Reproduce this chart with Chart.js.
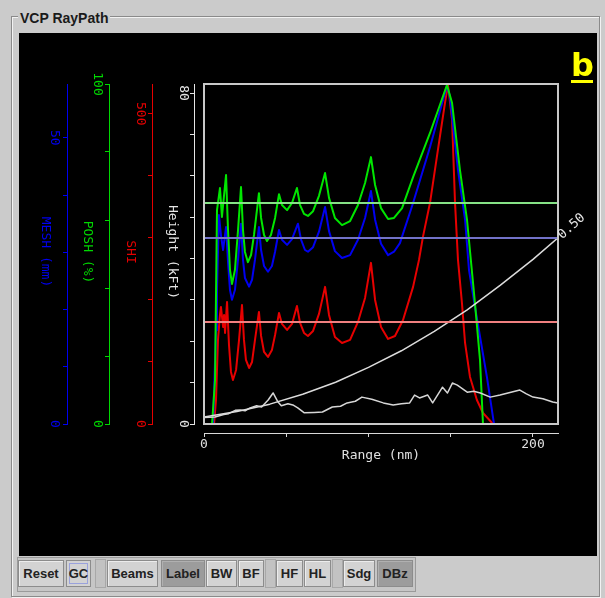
<!DOCTYPE html>
<html>
<head>
<meta charset="utf-8">
<title>VCP RayPath</title>
<script src="https://cdn.jsdelivr.net/npm/chart.js@4.4.1/dist/chart.umd.min.js"></script>
<style>
  html, body { margin: 0; padding: 0; }
  body { width: 605px; height: 598px; background: #cbcbcb; position: relative; overflow: hidden; }
  .frame { position: absolute; left: 11px; top: 16px; width: 587px; height: 579px; border: 1px solid #8a8a8a; box-shadow: inset 1px 1px 0 #f2f2f2, 1px 1px 0 #f2f2f2; }
  .frameTitle { position: absolute; left: 18px; top: 10px; padding: 0 2px; line-height: 16px; background: #cbcbcb; font: bold 14px 'Liberation Sans', Arial, sans-serif; color: #1a1a1a; }
  .plot { position: absolute; left: 19px; top: 33px; width: 578px; height: 523px; background: #000; }
  .bar { position: absolute; left: 17px; top: 557px; width: 397px; height: 33px; border: 1px solid #9a9a9a; background: #c6c6c6; }
  .btn, .sep { position: absolute; box-sizing: border-box; }
  .btn { top: 560px; height: 27px; border: 1px solid #8c8c8c; background: #d3d3d3; box-shadow: inset 1px 1px 0 #ececec;
         font: bold 13px 'Liberation Sans', Arial, sans-serif; color: #222; text-align: center; line-height: 25px; }
  .btn.on { background: #9c9c9c; box-shadow: inset 1px 1px 0 #b0b0b0; }
  .btn.focus { box-shadow: inset 0 0 0 2px #d3d3d3, inset 0 0 0 3px #9aa2dc; }
  .sep { top: 559px; height: 29px; background: #c2c2c2; border: 1px solid #a8a8a8; }
</style>
</head>
<body>
<div class="frame"></div>
<div class="frameTitle">VCP RayPath</div>
<div class="plot"><canvas id="rayChart" width="578" height="523" style="width:578px;height:523px"></canvas></div>
<div class="bar"></div>
<div class="btn" style="left:18px;width:46px">Reset</div>
<div class="btn focus" style="left:66px;width:25px">GC</div>
<div class="sep" style="left:95px;width:11px"></div>
<div class="btn" style="left:107px;width:51px">Beams</div>
<div class="btn on" style="left:161px;width:44px">Label</div>
<div class="btn" style="left:206px;width:31px">BW</div>
<div class="btn" style="left:238px;width:26px">BF</div>
<div class="sep" style="left:265px;width:11px"></div>
<div class="btn" style="left:276px;width:27px">HF</div>
<div class="btn" style="left:304px;width:27px">HL</div>
<div class="sep" style="left:332px;width:11px"></div>
<div class="btn" style="left:343px;width:32px">Sdg</div>
<div class="btn on" style="left:377px;width:36px">DBz</div>

<script>
// range in nm
const poshRange = [4.9, 6.7, 7.9, 9.7, 10.9, 13.4, 14.6, 15.8, 17.0, 18.8, 20.7, 22.5, 23.7, 24.9, 26.7, 28.6, 30.4, 33.4,
    34.7, 36.5, 38.3, 40.7, 43.2, 45.6, 47.4, 50.5, 53.5, 56.5, 58.4, 60.8, 63.2, 66.3, 69.9, 73.6, 76.0, 79.6, 83.9,
    88.8, 93.6, 97.9, 101.5, 104.0, 107.6, 111.9, 115.5, 120.4, 127.1, 137.4, 147.7, 150.8, 155.6, 159.9, 164.7, 167.8, 169.6];
const poshValues = [0, 12.9, 62.9, 69.4, 60.9, 73.2, 57.1, 45.3, 41.2, 45.3, 57.1, 69.7, 57.1, 50.6, 47.6, 49.7, 55.6, 67.9,
    60.6, 55.6, 53.8, 55.6, 60.6, 67.6, 64.4, 62.9, 65.0, 69.4, 64.4, 61.8, 61.2, 62.6, 67.1, 73.8, 66.5, 60.6, 58.5,
    59.7, 64.4, 70.9, 78.5, 70.3, 63.5, 60.3, 60.6, 63.5, 72.6, 85.6, 99.7, 94.4, 74.7, 60.0, 35.6, 18.8, 0];

const meshRange = [5.5, 7.3, 7.9, 9.1, 10.3, 11.6, 13.4, 14.6, 15.8, 17.0, 18.8, 20.7, 22.5, 23.7, 24.9, 27.4, 29.2, 31.0,
    33.4, 34.7, 36.5, 38.9, 41.3, 43.2, 45.6, 47.4, 50.5, 53.5, 57.1, 59.0, 61.4, 63.2, 66.3, 69.9, 73.6, 76.0, 79.6,
    83.9, 88.8, 93.6, 97.9, 101.5, 104.0, 107.6, 111.9, 115.5, 119.1, 127.1, 137.4, 147.7, 149.5, 154.4, 158.7, 161.1,
    164.7, 172.0, 176.3];
const meshValues = [0, 16.4, 23.4, 36.5, 33.0, 30.4, 34.4, 28.3, 23.4, 21.7, 23.4, 28.7, 35.0, 28.7, 25.5, 24.0, 25.2, 28.7,
    34.4, 30.4, 27.6, 26.6, 27.6, 30.1, 33.9, 32.2, 31.3, 32.3, 35.0, 32.2, 30.4, 30.1, 30.9, 33.6, 37.9, 33.7, 30.2,
    29.0, 29.5, 32.2, 36.0, 40.7, 35.7, 31.5, 29.5, 30.1, 31.6, 38.6, 48.4, 59.1, 57.2, 44.4, 35.7, 26.9,
    20.5, 8.2, 0];

const shiRange = [6.1, 7.3, 8.5, 9.7, 10.3, 11.6, 12.2, 12.8, 14.0, 15.2, 16.4, 17.6, 19.5, 21.3, 23.1, 24.3, 25.5, 27.4,
    29.2, 31.0, 33.4, 34.7, 36.5, 38.9, 41.3, 43.2, 45.6, 47.4, 50.5, 53.5, 56.5, 58.4, 60.8, 63.2, 66.3, 69.9, 73.6,
    76.0, 79.6, 83.9, 88.8, 93.6, 97.9, 101.5, 104.0, 107.6, 111.9, 116.1, 121.0, 127.1, 130.7, 133.1, 137.4, 142.2,
    146.5, 148.3, 150.8, 152.6, 154.4, 156.8, 158.7, 161.7, 165.9, 169.6, 175.7];
const shiValues = [0, 38.7, 135.5, 175.8, 188.7, 156.5, 175.8, 146.8, 196.8, 127.4, 83.9, 71.0, 87.1, 135.5, 191.9, 135.5, 103.2, 90.3,
    100.0, 135.5, 180.6, 141.9, 116.1, 108.1, 119.4, 143.5, 179.0, 161.3, 151.6, 161.3, 190.3, 162.9, 146.8, 141.9, 150.0, 177.4, 221.0,
    175.8, 140.3, 130.6, 135.5, 164.5, 203.2, 259.7, 200.0, 156.5, 137.1, 141.9, 167.7, 221.0, 264.5, 301.6, 356.5, 441.9,
    517.7, 546.8, 490.3, 356.5, 264.5, 195.2, 130.6, 75.8, 38.7, 17.7, 0];

// beam centre height (kft) for the 0.50 deg tilt
const rayRange = [0, 20, 40, 60, 80, 100, 120, 140, 160, 180, 200, 215.2];
const rayHeight = [1.7, 3.0, 4.8, 7.2, 10.1, 13.7, 17.7, 22.4, 27.6, 33.5, 39.8, 45.0];
const rayLabel = '0.50';

// white trace along the bottom (kft)
const echoRange = [0, 6.7, 12, 15, 19, 22, 25, 28, 32, 35, 39, 42, 45, 47, 51, 54, 57, 61, 67, 72, 78, 83, 87, 92, 96, 102, 109,
    115, 120, 125, 128, 131, 136, 139, 145, 148, 151, 154, 160, 164, 168, 174, 180, 186, 192, 196, 200, 206, 212, 215.2];
const echoHeight = [1.6, 1.7, 2.3, 2.5, 3.3, 3.4, 3.2, 3.9, 4.4, 4.1, 5.8, 7.5, 5.3, 4.4, 4.9, 4.6, 3.9, 2.7, 2.8, 2.9, 4.1, 4.3, 5.1, 5.5, 6.5, 6.0, 5.1,
    4.6, 4.9, 5.1, 7.0, 6.3, 7.0, 5.1, 8.9, 7.5, 9.9, 9.4, 7.7, 7.9, 7.5, 6.5, 7.0, 7.6, 8.2, 7.3, 6.5, 6.1, 5.3, 5.1];

// horizontal reference levels
const poshLevel = 65;
const meshLevel = 32.5;
const shiLevel = 164.5;

// labelled ticks
const rangeTickLabels = [0, 200];
const heightTickLabels = [0, 80];
const shiTickLabels = [0, 500];
const poshTickLabels = [0, 100];
const meshTickLabels = [0, 50];

const rangeMax = 215.2;
const monoFont = { family: "'DejaVu Sans Mono', monospace", size: 13 };

function toPoints(xs, ys) {
    return xs.map((x, i) => ({ x: x, y: ys[i] }));
}

function levelLine(value) {
    return [{ x: 0, y: value }, { x: rangeMax, y: value }];
}

function lineSet(data, color, yAxisID, width) {
    return {
        data: data,
        borderColor: color,
        borderWidth: width,
        borderJoinStyle: 'round',
        pointRadius: 0,
        tension: 0,
        xAxisID: 'x',
        yAxisID: yAxisID
    };
}

function sideAxis(color, max, step, labels, weight, width, pad) {
    return {
        type: 'linear',
        position: 'left',
        weight: weight,
        min: 0,
        max: max,
        afterFit: function(scale) { scale.width = width; },
        grid: { drawOnChartArea: false, color: color, tickLength: 4 },
        border: { color: color },
        ticks: {
            stepSize: step,
            includeBounds: false,
            autoSkip: false,
            minRotation: -90,
            maxRotation: -90,
            crossAlign: 'center',
            padding: pad,
            color: color,
            font: monoFont,
            callback: v => labels.includes(v) ? String(v) : ''
        }
    };
}

// box round the plot, rotated axis titles, beam label and the panel letter
const decorations = {
    id: 'decorations',
    afterDraw(chart) {
        const { ctx, chartArea: a, scales } = chart;
        ctx.save();
        ctx.strokeStyle = '#c8c8c8';
        ctx.lineWidth = 2;
        ctx.strokeRect(a.left, a.top, a.right - a.left, a.bottom - a.top);

        ctx.font = "13px 'DejaVu Sans Mono', monospace";
        ctx.textAlign = 'center';
        ctx.textBaseline = 'middle';
        const titles = [
            ['height', 'Height (kFt)', '#e6e6e6'],
            ['shi', 'SHI', '#e60000'],
            ['posh', 'POSH (%)', '#00d800'],
            ['mesh', 'MESH (mm)', '#0000f0']
        ];
        titles.forEach(t => {
            const s = scales[t[0]];
            ctx.save();
            ctx.translate(s.right - 22, (s.top + s.bottom) / 2 - 2);
            ctx.rotate(Math.PI / 2);
            ctx.fillStyle = t[2];
            ctx.fillText(t[1], 0, 0);
            ctx.restore();
        });

        const ray = chart.getDatasetMeta(3).data;
        const end = ray[ray.length - 1];
        ctx.save();
        ctx.translate(end.x + 2, end.y - 1);
        ctx.rotate(-42 * Math.PI / 180);
        ctx.textAlign = 'left';
        ctx.fillStyle = '#e6e6e6';
        ctx.fillText(rayLabel, 0, 0);
        ctx.restore();

        ctx.fillStyle = '#ffff00';
        ctx.font = "bold 32px 'DejaVu Sans', sans-serif";
        ctx.textAlign = 'left';
        ctx.textBaseline = 'alphabetic';
        ctx.fillText('b', 552, 43);
        ctx.fillRect(552, 47, 22, 3);
        ctx.restore();
    }
};

const ctx = document.getElementById('rayChart').getContext('2d');

const rayChart = new Chart(ctx, {
    type: 'line',
    data: {
        datasets: [
            lineSet(levelLine(poshLevel), '#86e286', 'posh', 2),
            lineSet(levelLine(meshLevel), '#7272c8', 'mesh', 2),
            lineSet(levelLine(shiLevel), '#f08080', 'shi', 2),
            lineSet(toPoints(rayRange, rayHeight), '#dcdcdc', 'height', 1.5),
            lineSet(toPoints(echoRange, echoHeight), '#d6d6d6', 'height', 1.5),
            lineSet(toPoints(poshRange, poshValues), '#00e600', 'posh', 2),
            lineSet(toPoints(meshRange, meshValues), '#0000f0', 'mesh', 2),
            lineSet(toPoints(shiRange, shiValues), '#e60000', 'shi', 2)
        ]
    },
    options: {
        responsive: false,
        animation: false,
        layout: { padding: { left: 0, right: 39, top: 51, bottom: 83 } },
        plugins: {
            legend: { display: false },
            tooltip: { enabled: false }
        },
        scales: {
            x: {
                type: 'linear',
                position: 'bottom',
                weight: 1,
                min: 0,
                max: rangeMax,
                afterFit: function(scale) { scale.height = 40; },
                grid: { drawOnChartArea: false, color: '#d8d8d8', tickLength: 4 },
                border: { color: '#d8d8d8' },
                ticks: {
                    stepSize: 50,
                    includeBounds: false,
                    autoSkip: false,
                    maxRotation: 0,
                    padding: 0,
                    color: '#e0e0e0',
                    font: monoFont,
                    callback: v => rangeTickLabels.includes(v) ? String(v) : ''
                },
                title: {
                    display: true,
                    text: 'Range (nm)',
                    color: '#e0e0e0',
                    font: monoFont,
                    padding: { top: 0, bottom: 10 }
                }
            },
            gapB: {
                type: 'linear',
                position: 'bottom',
                weight: 0,
                afterFit: function(scale) { scale.height = 9; },
                grid: { display: false },
                border: { display: false },
                ticks: { display: false }
            },
            mesh: sideAxis('#0000f0', 59.4, 10, meshTickLabels, 4, 48, 1),
            posh: sideAxis('#00d800', 100, 20, poshTickLabels, 3, 42, -4),
            shi: sideAxis('#e60000', 548, 100, shiTickLabels, 2, 43, -4),
            height: sideAxis('#e6e6e6', 82.2, 10, heightTickLabels, 1, 42, -1),
            gapL: {
                type: 'linear',
                position: 'left',
                weight: 0,
                afterFit: function(scale) { scale.width = 10; },
                grid: { display: false },
                border: { display: false },
                ticks: { display: false }
            }
        }
    },
    plugins: [decorations]
});
</script>
</body>
</html>
